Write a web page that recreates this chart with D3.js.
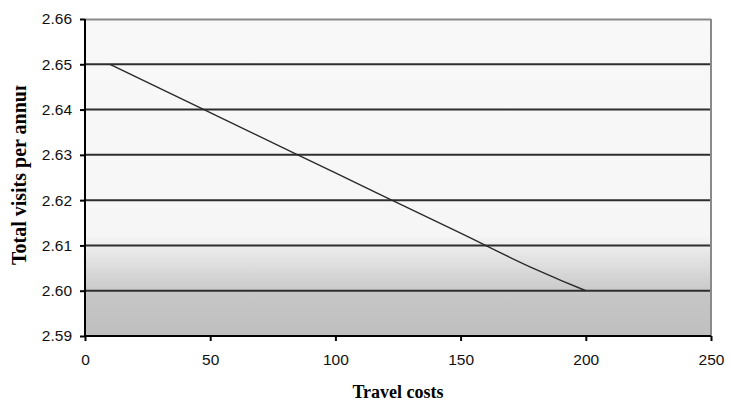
<!DOCTYPE html>
<html>
<head>
<meta charset="utf-8">
<script src="https://cdn.jsdelivr.net/npm/d3@7"></script>
<style>
  html, body { margin: 0; padding: 0; background: #fff; }
  svg { display: block; }
</style>
</head>
<body>
<svg id="chart" width="732" height="404"></svg>
<script>
// Travel cost vs. total visits per annum
const travelCosts = [10, 50, 100, 150, 180, 190, 200];
const visitsPerAnnum = [2.650, 2.6393, 2.626, 2.6127, 2.6047, 2.6023, 2.600];
const xTicks = [0, 50, 100, 150, 200, 250];
const yTicks = [2.59, 2.60, 2.61, 2.62, 2.63, 2.64, 2.65, 2.66];

const svg = d3.select("#chart");
const margin = { left: 85, top: 19, right: 21, bottom: 68 };
const width = 732 - margin.left - margin.right;
const height = 404 - margin.top - margin.bottom;

const x = d3.scaleLinear().domain([0, 250]).range([0, width]);
const y = d3.scaleLinear().domain([2.59, 2.66]).range([height, 0]);

// Plot background: light at top, grey band at the bottom
const defs = svg.append("defs");
const grad = defs.append("linearGradient")
  .attr("id", "bg").attr("x1", 0).attr("y1", 0).attr("x2", 0).attr("y2", 1);
[[0, "#f8f8f8"], [0.68, "#f6f6f6"], [0.87, "#c6c6c6"], [1, "#bfbfbf"]]
  .forEach(([o, c]) => grad.append("stop").attr("offset", o).attr("stop-color", c));

const g = svg.append("g").attr("transform", `translate(${margin.left},${margin.top})`);

g.append("rect").attr("width", width).attr("height", height).attr("fill", "url(#bg)");

// Horizontal gridlines
g.append("g").selectAll("line")
  .data(yTicks.filter(t => t > 2.59 && t < 2.66))
  .join("line")
  .attr("x1", 0).attr("x2", width)
  .attr("y1", d => y(d)).attr("y2", d => y(d))
  .attr("stroke", "#2e2e2e").attr("stroke-width", 2);

// Top and right frame
g.append("line").attr("x1", 0).attr("x2", width).attr("y1", 0.5).attr("y2", 0.5)
  .attr("stroke", "#8a8a8a").attr("stroke-width", 2);
g.append("line").attr("x1", width).attr("x2", width).attr("y1", 0).attr("y2", height)
  .attr("stroke", "#8a8a8a").attr("stroke-width", 2);

// Data line
const line = d3.line().x((d, i) => x(travelCosts[i])).y(d => y(d)).curve(d3.curveMonotoneX);
g.append("path").datum(visitsPerAnnum)
  .attr("d", line).attr("fill", "none")
  .attr("stroke", "#2a2a2a").attr("stroke-width", 1.4);

// Axes
const xAxis = d3.axisBottom(x).tickValues(xTicks).tickSize(5).tickPadding(13)
  .tickFormat(d3.format("d"));
const yAxis = d3.axisLeft(y).tickValues(yTicks).tickSize(5).tickPadding(8)
  .tickFormat(d3.format(".2f"));

const gx = g.append("g").attr("transform", `translate(0,${height})`).call(xAxis);
const gy = g.append("g").call(yAxis);

[gx, gy].forEach(ax => {
  ax.select(".domain").attr("stroke", "#000").attr("stroke-width", 2);
  ax.selectAll(".tick line").attr("stroke", "#000").attr("stroke-width", 2);
  ax.selectAll(".tick text")
    .attr("fill", "#111")
    .style("font-family", "'Liberation Sans', Arial, sans-serif")
    .style("font-size", "15.5px");
});
gx.select(".domain").attr("d", `M0,0H${width}`);
gy.select(".domain").attr("d", `M0,${height}V0`);

// Axis titles
svg.append("text")
  .attr("x", margin.left + width / 2).attr("y", 398)
  .attr("text-anchor", "middle")
  .style("font-family", "'Liberation Serif', 'Times New Roman', serif")
  .style("font-weight", "bold").style("font-size", "18px")
  .attr("fill", "#000")
  .text("Travel costs");

defs.append("clipPath").attr("id", "ytitleClip")
  .append("rect").attr("x", 0).attr("y", 85.5).attr("width", 40).attr("height", 300);

svg.append("g").attr("clip-path", "url(#ytitleClip)")
  .append("text")
  .attr("transform", "translate(25.5,265) rotate(-90)")
  .attr("text-anchor", "start")
  .style("font-family", "'Liberation Serif', 'Times New Roman', serif")
  .style("font-weight", "bold").style("font-size", "20px")
  .attr("fill", "#000")
  .text("Total visits per annum");
</script>
</body>
</html>
